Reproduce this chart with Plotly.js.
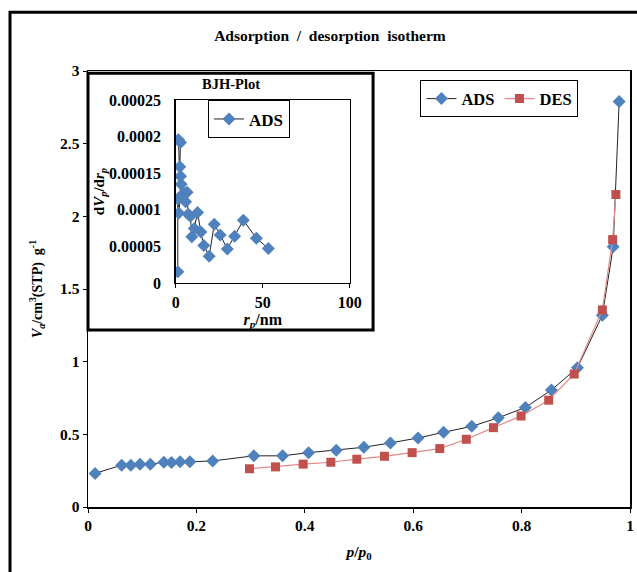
<!DOCTYPE html>
<html>
<head>
<meta charset="utf-8">
<script src="https://cdn.plot.ly/plotly-3.0.1.min.js"></script>
<style>html,body{margin:0;padding:0;background:#fff;}#chart{width:637px;height:572px;}</style>
</head>
<body>
<div id="chart"></div>
<script>
// Main isotherm data
const adsP = [0.013,0.062,0.079,0.096,0.115,0.140,0.154,0.170,0.188,0.230,0.306,0.359,0.407,0.458,0.509,0.558,0.609,0.656,0.708,0.757,0.807,0.855,0.903,0.949,0.969,0.980];
const adsV = [0.231,0.288,0.288,0.295,0.295,0.308,0.306,0.311,0.311,0.317,0.352,0.352,0.374,0.390,0.411,0.441,0.475,0.514,0.555,0.614,0.685,0.805,0.958,1.32,1.79,2.79];
const desP = [0.974,0.968,0.949,0.897,0.850,0.799,0.748,0.698,0.649,0.598,0.547,0.496,0.448,0.397,0.346,0.298];
const desV = [2.15,1.84,1.356,0.915,0.735,0.626,0.546,0.466,0.402,0.374,0.349,0.329,0.308,0.295,0.276,0.263];
// BJH inset data
const bjhR = [53.2,46.3,38.8,33.8,29.6,25.5,22.1,19.2,16.1,14.4,12.5,10.6,9.2,8.4,7.1,6.5,5.6,4.6,3.1,2.7,2.3,2.7,1.5,2.7,1.7,1.15,1.15];
const bjhD = [4.7e-5,6.11e-5,8.58e-5,6.39e-5,4.65e-5,6.57e-5,8.03e-5,3.65e-5,5.11e-5,6.98e-5,9.63e-5,7.44e-5,6.3e-5,9.12e-5,9.4e-5,1.24e-4,1.11e-4,1.23e-4,1.35e-4,1.46e-4,1.59e-4,1.92e-4,1.96e-4,1.18e-4,9.58e-5,1.15e-4,1.51e-5];
const bjhTickVals = [0,0.00005,0.0001,0.00015,0.0002,0.00025];
const bjhTickText = ['0','0.00005','0.0001','0.00015','0.0002','0.00025'];

const FF = 'Liberation Serif, Times New Roman, serif';
const bold = (s) => ({family: FF, size: s, color: '#000', weight: 700});

const traces = [
  {x: adsP, y: adsV, name: 'ADS', type: 'scatter', mode: 'lines+markers',
   line: {color: '#222', width: 1},
   marker: {symbol: 'diamond', size: 10, color: '#4F81BD'}, legend: 'legend'},
  {x: desP, y: desV, name: 'DES', type: 'scatter', mode: 'lines+markers',
   line: {color: '#E08A88', width: 1.2},
   marker: {symbol: 'square', size: 9, color: '#C0504D'}, legend: 'legend'},
  {x: bjhR, y: bjhD, name: 'ADS', type: 'scatter', mode: 'lines+markers',
   xaxis: 'x2', yaxis: 'y2',
   line: {color: '#222', width: 1},
   marker: {symbol: 'diamond', size: 10, color: '#4F81BD'}, legend: 'legend2'}
];

const layout = {
  width: 637, height: 572,
  margin: {l: 88, r: 7, t: 71, b: 65},
  paper_bgcolor: '#fff', plot_bgcolor: '#fff',
  showlegend: true,
  title: {text: 'Adsorption  /  desorption  isotherm', font: bold(15.5),
          x: 0.518, xref: 'container', y: 1 - 36/572, yref: 'container', yanchor: 'middle'},
  xaxis: {range: [0, 1], dtick: 0.2, tick0: 0, showgrid: false, zeroline: false,
          showline: true, linecolor: '#000', linewidth: 1.5, mirror: true,
          ticks: 'outside', ticklen: 4, tickcolor: '#000', tickfont: bold(15.5),
          title: {text: '<i>p</i>/<i>p</i><sub>0</sub>', font: bold(15.5), standoff: 13}},
  yaxis: {range: [0, 3], dtick: 0.5, tick0: 0, showgrid: false, zeroline: false,
          showline: true, linecolor: '#000', linewidth: 1.5, mirror: true,
          ticks: 'outside', ticklen: 4, tickcolor: '#000', tickfont: bold(15.5),
          title: {text: '<i>V</i><sub><i>a</i></sub>/cm<sup>3</sup>(STP)  g<sup>-1</sup>', font: bold(14), standoff: 14}},
  xaxis2: {domain: [0.162, 0.483], anchor: 'y2', range: [0, 100], dtick: 50, tick0: 0,
           showgrid: false, zeroline: false, showline: true, linecolor: '#000', linewidth: 1.5, mirror: true,
           ticks: 'outside', ticklen: 4, tickcolor: '#000', tickfont: bold(16),
           title: {text: '<i>r</i><sub><i>p</i></sub>/nm', font: bold(16), standoff: 1}},
  yaxis2: {domain: [0.514, 0.933], anchor: 'x2', range: [0, 0.00025],
           tickvals: bjhTickVals, ticktext: bjhTickText,
           showgrid: false, zeroline: false, showline: true, linecolor: '#000', linewidth: 1.5, mirror: true,
           ticks: '', tickfont: bold(16), ticklabelstandoff: 10,
           title: {text: 'd<i>V</i><sub><i>p</i></sub>/d<i>r</i><sub><i>p</i></sub>', font: bold(15), standoff: 0}},
  legend: {x: 0.613, y: 0.979, xanchor: 'left', yanchor: 'top', orientation: 'h',
           bgcolor: '#fff', bordercolor: '#000', borderwidth: 1.2, font: bold(16.5),
           tracegroupgap: 0, itemwidth: 30},
  legend2: {x: 0.221, y: 0.933, xanchor: 'left', yanchor: 'top', orientation: 'h',
            bgcolor: '#fff', bordercolor: '#000', borderwidth: 1.2, font: bold(17), itemwidth: 30},
  shapes: [
    {type: 'rect', xref: 'paper', yref: 'paper', x0: -0.1439, x1: 1.03, y0: -0.2, y1: 1.135,
     line: {color: '#000', width: 3}, fillcolor: 'rgba(0,0,0,0)', layer: 'below'},
    {type: 'rect', xref: 'paper', yref: 'paper', x0: 0, x1: 0.526, y0: 0.406, y1: 0.995,
     line: {color: '#000', width: 3}, fillcolor: '#fff', layer: 'below'}
  ],
  annotations: [
    {text: 'BJH-Plot', xref: 'paper', yref: 'paper', x: 0.263, y: (507-84)/436,
     xanchor: 'center', yanchor: 'middle', showarrow: false, font: bold(14.5)}
  ]
};

Plotly.newPlot('chart', traces, layout, {displayModeBar: false, staticPlot: true});
</script>
</body>
</html>
